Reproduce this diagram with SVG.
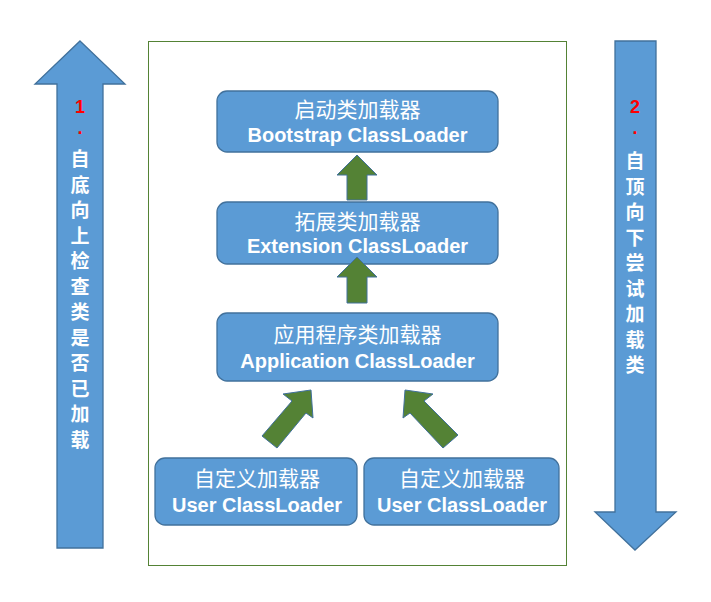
<svg xmlns="http://www.w3.org/2000/svg" width="711" height="602" viewBox="0 0 711 602">
<style>
.box{fill:#5B9BD5;stroke:#41719C;stroke-width:1.3}
.big{fill:#5B9BD5;stroke:#41719C;stroke-width:1.3}
.gr{fill:#548235;stroke:#41719C;stroke-width:1}
.cn{font-family:"Liberation Sans","Noto Sans CJK SC",sans-serif;font-size:21px;fill:#fff;text-anchor:middle}
.en{font-family:"Liberation Sans","Noto Sans CJK SC",sans-serif;font-size:20px;font-weight:bold;fill:#fff;text-anchor:middle}
.vt{font-family:"Liberation Sans","Noto Sans CJK SC",sans-serif;font-size:19px;font-weight:bold;fill:#fff;text-anchor:middle}
.num{font-family:"Liberation Sans",sans-serif;font-size:18px;font-weight:bold;fill:#FF0000;text-anchor:middle}
</style>
<rect width="711" height="602" fill="#fff"/>
<rect id="frame" x="148.5" y="41.5" width="418" height="524" fill="none" stroke="#548235" stroke-width="1"/>
<g id="left-arrow">
<polygon class="big" points="80,41 125,84 103,84 103,548 57,548 57,84 35,84"/>
<text class="num" x="80" y="113">1</text>
<text class="num" x="80" y="134">.</text>
<text class="vt" x="80"><tspan x="80" y="166">自</tspan><tspan x="80" y="191.5">底</tspan><tspan x="80" y="217">向</tspan><tspan x="80" y="242.5">上</tspan><tspan x="80" y="268">检</tspan><tspan x="80" y="293.5">查</tspan><tspan x="80" y="319">类</tspan><tspan x="80" y="344.5">是</tspan><tspan x="80" y="370">否</tspan><tspan x="80" y="395.5">已</tspan><tspan x="80" y="421">加</tspan><tspan x="80" y="446.5">载</tspan></text>
</g>
<g id="right-arrow">
<polygon class="big" points="615,41 656,41 656,512 676,512 635,550 595,512 615,512"/>
<text class="num" x="635" y="113">2</text>
<text class="num" x="635" y="134">.</text>
<text class="vt" x="635"><tspan x="635" y="168">自</tspan><tspan x="635" y="193.5">顶</tspan><tspan x="635" y="219">向</tspan><tspan x="635" y="244.5">下</tspan><tspan x="635" y="270">尝</tspan><tspan x="635" y="295.5">试</tspan><tspan x="635" y="321">加</tspan><tspan x="635" y="346.5">载</tspan><tspan x="635" y="372">类</tspan></text>
</g>
<g id="bootstrap">
<rect class="box" x="217" y="91" width="281" height="61" rx="10"/>
<text class="cn" x="357.5" y="117">启动类加载器</text>
<text class="en" x="357.5" y="142">Bootstrap ClassLoader</text>
</g>
<g id="extension">
<rect class="box" x="217" y="202" width="281" height="62" rx="10"/>
<text class="cn" x="357.5" y="229">拓展类加载器</text>
<text class="en" x="357.5" y="253">Extension ClassLoader</text>
</g>
<g id="application">
<rect class="box" x="217" y="313" width="281" height="68" rx="10"/>
<text class="cn" x="357.5" y="342">应用程序类加载器</text>
<text class="en" x="357.5" y="368">Application ClassLoader</text>
</g>
<g id="user1">
<rect class="box" x="155" y="458" width="202" height="67" rx="10"/>
<text class="cn" x="257" y="486">自定义加载器</text>
<text class="en" x="257" y="512">User ClassLoader</text>
</g>
<g id="user2">
<rect class="box" x="364" y="458" width="195" height="67" rx="10"/>
<text class="cn" x="462" y="486">自定义加载器</text>
<text class="en" x="462" y="512">User ClassLoader</text>
</g>
<g id="connectors">
<polygon class="gr" points="357,155 377,175 367,175 367,200 347,200 347,175 337,175"/>
<polygon class="gr" points="357,257 377,277 367,277 367,303 347,303 347,277 337,277"/>
<polygon class="gr" points="311,390 313,418 306,413 277,448 262,436 292,401 283,394"/>
<polygon class="gr" points="405,390 403,418 410,413 443,448 458,435 424,401 433,394"/>
</g>
</svg>
